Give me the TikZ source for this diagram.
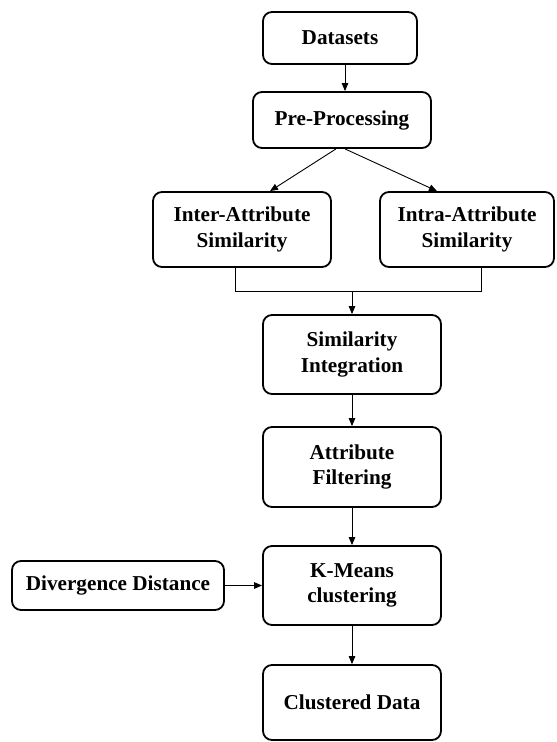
\documentclass[tikz,border=0pt]{standalone}
\usepackage{fontspec}
\setmainfont{Liberation Serif}
\usetikzlibrary{arrows.meta,calc}
\begin{document}
\begin{tikzpicture}[x=1pt,y=-1pt,
  box/.style={draw=black, line width=1.8pt, rounded corners=9pt, align=center,
    font=\fontsize{21.2}{25.5}\selectfont\bfseries, inner sep=0pt},
  arr/.style={draw=black, line width=0.9pt, -{Triangle[length=8pt,width=6.5pt]}},
  ln/.style={draw=black, line width=0.9pt}]
\useasboundingbox (0,0) rectangle (557,742);
\fill[white] (0,0) rectangle (557,742);
\node[box, minimum width=154pt, minimum height=52pt] (ds) at (340,38) {Datasets};
\node[box, minimum width=178pt, minimum height=56pt] (pp) at (342,120) {Pre-Processing};
\node[box, minimum width=178pt, minimum height=75pt] (inter) at (242,229.5) {Inter-Attribute\\Similarity};
\node[box, minimum width=174pt, minimum height=75pt] (intra) at (467,229.5) {Intra-Attribute\\Similarity};
\node[box, minimum width=178pt, minimum height=79pt] (si) at (352,354.5) {Similarity\\Integration};
\node[box, minimum width=178pt, minimum height=80pt] (af) at (352,467) {Attribute\\Filtering};
\node[box, minimum width=178pt, minimum height=79pt] (km) at (352,585.5) {K-Means\\clustering};
\node[box, minimum width=178pt, minimum height=75pt] (cd) at (352,702.5) {Clustered Data};
\node[box, minimum width=212pt, minimum height=49pt] (dd) at (118,585.5) {Divergence Distance};
\coordinate (c1) at (345,0);
\coordinate (pl) at (336,0);
\coordinate (pr) at (345,0);
\coordinate (il) at (270,0);
\coordinate (ir) at (437,0);
\coordinate (jl) at (235,0);
\coordinate (jr) at (481,0);
\coordinate (jy) at (0,291);
\draw[arr] (ds.south -| c1) -- (pp.north -| c1);
\draw[arr] (pp.south -| pl) -- (inter.north -| il);
\draw[arr] (pp.south -| pr) -- (intra.north -| ir);
\draw[ln] (inter.south -| jl) -- (jl |- jy) -- (jr |- jy) -- (intra.south -| jr);
\draw[arr] (si.north |- jy) -- (si.north);
\draw[arr] (si) -- (af);
\draw[arr] (af) -- (km);
\draw[arr] (km) -- (cd);
\draw[arr] (dd) -- (km);
\end{tikzpicture}
\end{document}
